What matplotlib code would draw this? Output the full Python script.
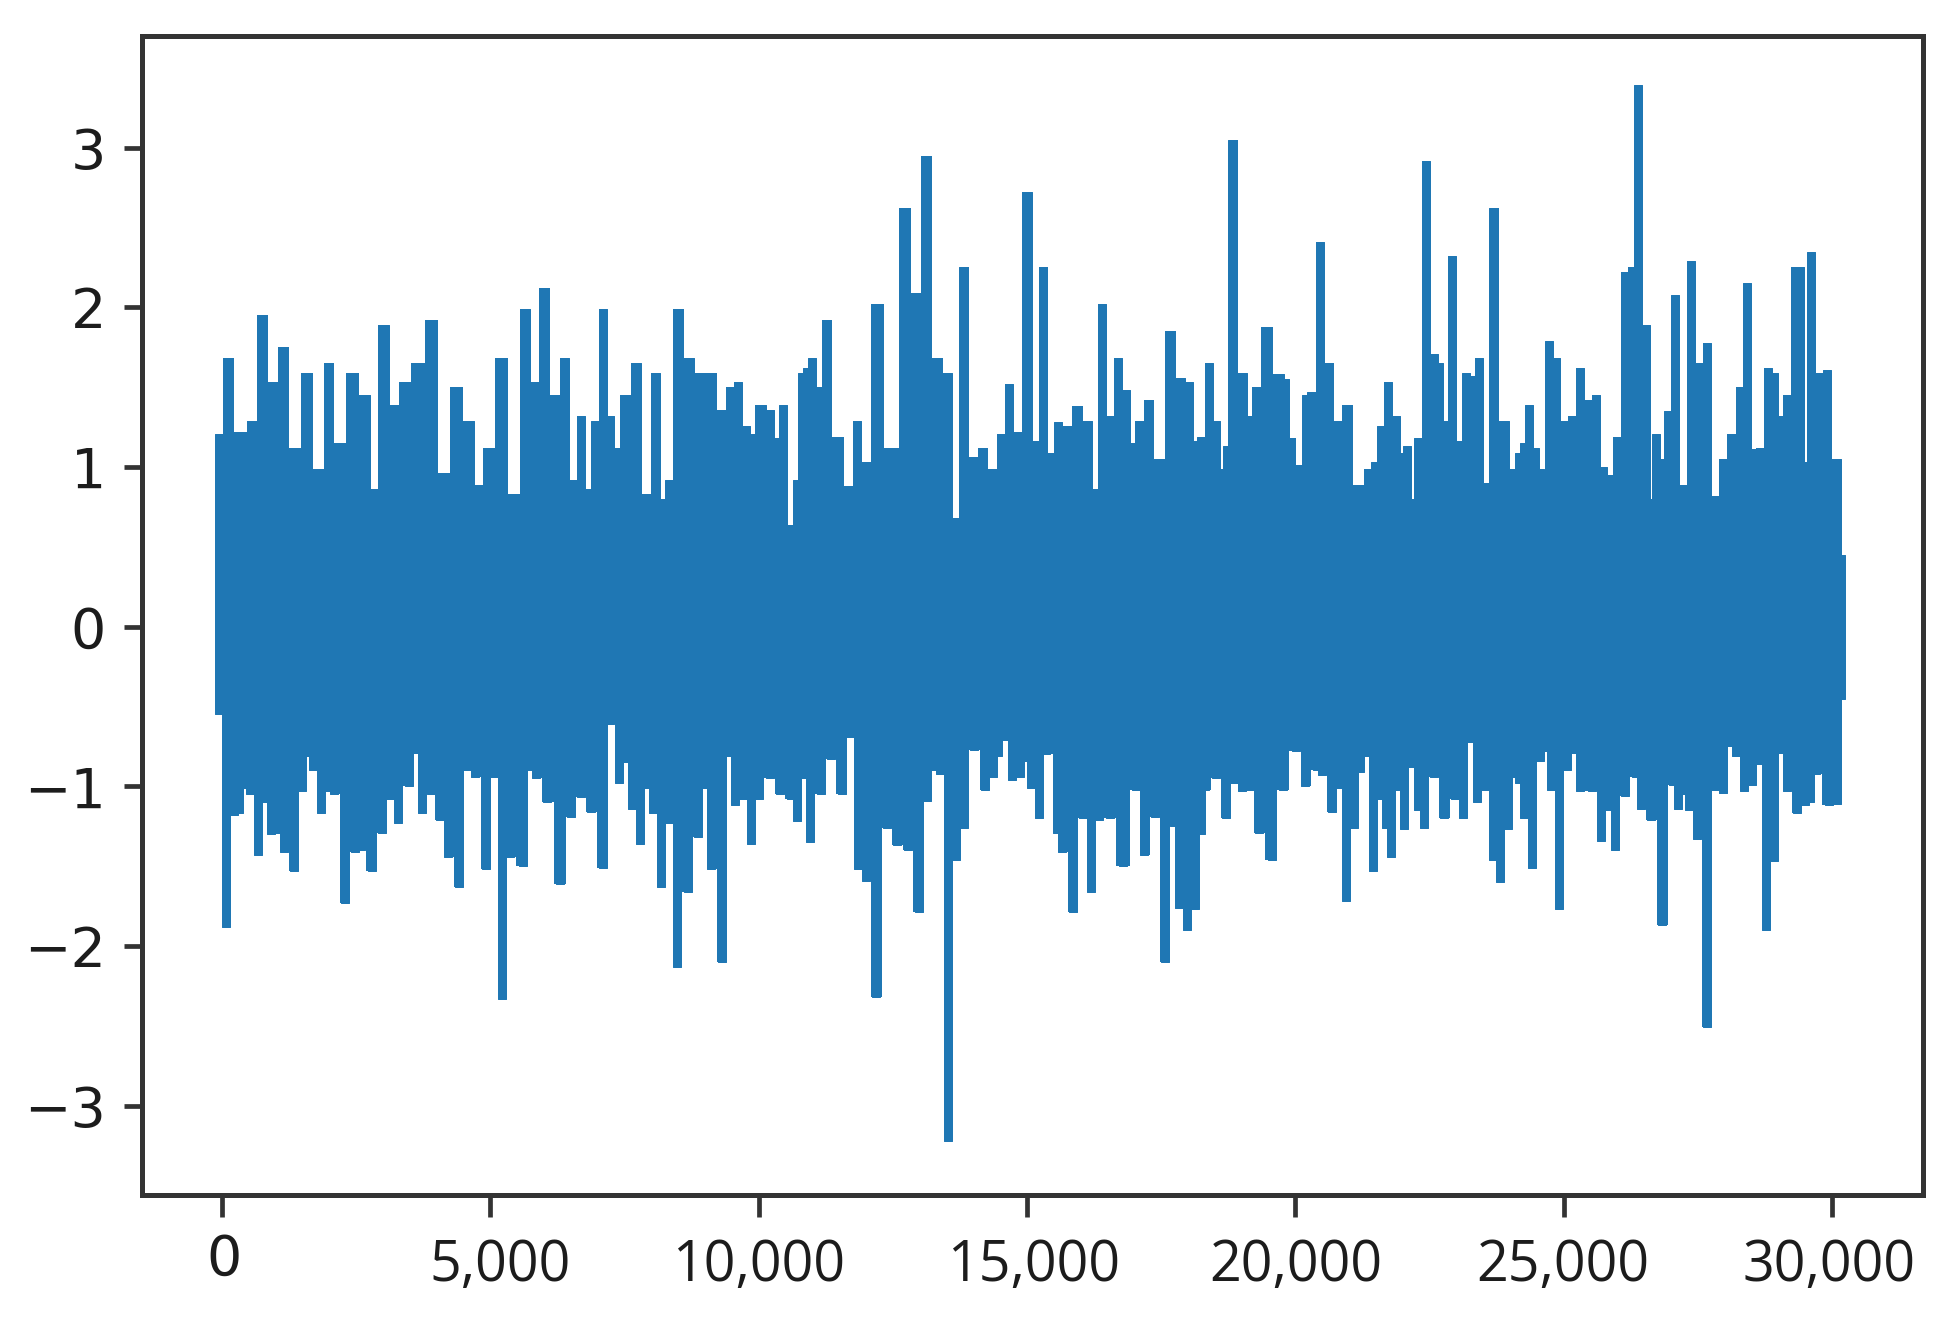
import matplotlib
matplotlib.use("Agg")
import matplotlib.pyplot as plt
from matplotlib.transforms import ScaledTranslation
import numpy as np

# upper envelope of the signal
top_x = [-60, 113, 349, 570, 754, 953, 1152, 1351, 1602, 1801, 1992, 2191, 2434, 2685, 2788, 3038, 3186, 3429, 3628,
         3923, 4144, 4372, 4622, 4770, 4969, 5212, 5463, 5661, 5809, 6000, 6206, 6398, 6546, 6693, 6840, 6943, 7091,
         7238, 7341, 7489, 7739, 7886, 8085, 8233, 8329, 8476, 8726, 8874, 9117, 9316, 9463, 9611, 9758, 9814, 10057,
         10205, 10315, 10462, 10600, 10706, 10801, 10905, 11000, 11103, 11251, 11494, 11693, 11840, 11988, 12194,
         12489, 12732, 12931, 13130, 13336, 13520, 13684, 13815, 14014, 14161, 14367, 14515, 14662, 14810, 15009,
         15156, 15303, 15473, 15583, 15731, 15952, 16136, 16246, 16394, 16541, 16688, 16836, 16946, 17094, 17278,
         17462, 17683, 17867, 18014, 18125, 18236, 18383, 18530, 18626, 18729, 18825, 19024, 19120, 19267, 19459,
         19710, 19805, 19908, 20100, 20203, 20299, 20453, 20630, 20792, 20940, 21198, 21345, 21492, 21587, 21734,
         21881, 21984, 22079, 22190, 22285, 22432, 22579, 22682, 22777, 22924, 23071, 23181, 23277, 23416, 23570,
         23673, 23915, 24062, 24158, 24261, 24356, 24466, 24562, 24650, 24723, 24856, 25002, 25164, 25296, 25458,
         25605, 25737, 25840, 25994, 26133, 26265, 26390, 26537, 26633, 26728, 26838, 26941, 27081, 27228, 27374,
         27529, 27676, 27822, 27970, 28116, 28322, 28417, 28513, 28667, 28814, 28909, 29005, 29152, 29313, 29409,
         29504, 29600, 29702, 29798, 29901, 29996, 30099, 30170]
top_y = [1.21, 1.68, 1.22, 1.29, 1.95, 1.53, 1.75, 1.12, 1.59, 0.99, 1.65, 1.15, 1.59, 1.45, 0.86, 1.89, 1.39, 1.53, 1.65,
         1.92, 0.96, 1.50, 1.29, 0.89, 1.12, 1.68, 0.83, 1.99, 1.53, 2.12, 1.45, 1.68, 0.92, 1.32, 0.86, 1.29, 1.99,
         1.32, 1.12, 1.45, 1.65, 0.83, 1.59, 0.80, 0.92, 1.99, 1.68, 1.59, 1.59, 1.36, 1.50, 1.53, 1.26, 1.21, 1.39,
         1.36, 1.18, 1.39, 0.64, 0.92, 1.59, 1.62, 1.68, 1.50, 1.92, 1.19, 0.88, 1.29, 1.03, 2.02,
         1.12, 2.62, 2.09, 2.95, 1.68, 1.59, 0.68, 2.25, 1.06, 1.12, 0.99, 1.21, 1.52, 1.22, 2.72,
         1.16, 2.25, 1.09, 1.28, 1.26, 1.38, 1.29, 0.86, 2.02, 1.32, 1.68, 1.48, 1.15, 1.29, 1.42,
         1.05, 1.85, 1.56, 1.53, 1.16, 1.19, 1.65, 1.29, 0.99, 1.13, 3.05, 1.59, 1.32, 1.50, 1.88,
         1.58, 1.55, 1.18, 1.01, 1.45, 1.47, 2.41, 1.65, 1.29, 1.39, 0.89, 0.99, 1.03, 1.26, 1.53,
         1.32, 1.09, 1.13, 0.80, 1.18, 2.92, 1.71, 1.65, 1.29, 2.32, 1.16, 1.59, 1.57, 1.68, 0.90,
         2.62, 1.29, 0.99, 1.09, 1.15, 1.39, 1.12, 0.99, 0.82, 1.79, 1.68, 1.29, 1.32, 1.62, 1.42,
         1.45, 1.00, 0.95, 1.19, 2.22, 2.25, 3.39, 1.89, 0.80, 1.21, 1.05, 1.35, 2.08, 0.89, 2.29,
         1.65, 1.78, 0.82, 1.05, 1.21, 1.50, 2.15, 1.11, 1.12, 1.62, 1.59, 1.32, 1.45, 2.25, 2.25,
         1.03, 2.35, 1.59, 1.59, 1.61, 1.05, 1.05, 0.45]

# lower envelope
bottom_x = [-60, 69, 216, 320, 415, 518, 666, 806, 909, 1012, 1160, 1351, 1498, 1602, 1697, 1845, 1992, 2095, 2287, 2486,
            2596, 2788, 2986, 3134, 3281, 3480, 3576, 3724, 3886, 4070, 4217, 4416, 4571, 4718, 4917, 5065, 5212, 5359,
            5603, 5764, 5860, 6059, 6302, 6501, 6686, 6870, 7091, 7238, 7393, 7540, 7643, 7791, 7938, 8033, 8181, 8329,
            8476, 8675, 8874, 9021, 9117, 9316, 9412, 9559, 9706, 9858, 10006, 10205, 10389, 10610, 10706, 10809,
            10956, 11155, 11347, 11553, 11693, 11848, 11995, 12194, 12393, 12584, 12783, 12982, 13130, 13277, 13373,
            13528, 13675, 13822, 14021, 14220, 14367, 14463, 14566, 14714, 14861, 14957, 15067, 15215, 15362, 15451,
            15561, 15657, 15856, 16048, 16195, 16342, 16541, 16784, 17035, 17182, 17388, 17572, 17735, 17831, 17978,
            18125, 18236, 18324, 18530, 18715, 18862, 19009, 19157, 19319, 19562, 19761, 20004, 20188, 20394, 20498,
            20689, 20792, 20940, 21088, 21198, 21294, 21441, 21587, 21690, 21786, 21881, 22028, 22175, 22278, 22388,
            22579, 22777, 22968, 23122, 23269, 23379, 23526, 23673, 23820, 23967, 24062, 24172, 24261, 24407, 24554,
            24650, 24760, 24907, 25054, 25149, 25311, 25531, 25693, 25840, 25950, 26141, 26339, 26449, 26633, 26831,
            27037, 27132, 27228, 27330, 27477, 27676, 27822, 27970, 28116, 28212, 28359, 28506, 28615, 28762, 28909,
            29005, 29152, 29350, 29497, 29593, 29702, 29937, 30099, 30170]
bottom_y = [-0.55, -1.88, -1.18, -1.17, -1.01, -1.05, -1.43, -1.10, -1.30, -1.29, -1.41, -1.53, -1.03, -0.81, -0.90, -1.17, -1.03, -1.05, -1.73, -1.41,
            -1.40, -1.53, -1.29, -1.08, -1.23, -1.00, -0.79, -1.17, -1.05, -1.21, -1.44, -1.63, -0.90, -0.94, -1.52, -0.94, -2.33, -1.44,
            -1.50, -0.90, -0.95, -1.10, -1.61, -1.19, -1.07, -1.16, -1.51, -0.61, -0.98, -0.85, -1.14, -1.36, -1.01, -1.17, -1.63, -1.23,
            -2.13, -1.66, -1.32, -1.01, -1.52, -2.10, -0.81, -1.12, -1.08, -1.36, -1.08, -0.95, -1.05, -1.08, -1.22, -0.95,
            -1.35, -1.05, -0.83, -1.05, -0.69, -1.52, -1.59, -2.32, -1.26, -1.37, -1.40, -1.79, -1.09, -0.90, -0.92,
            -3.22, -1.46, -1.26, -0.77, -1.02, -0.94, -0.81, -0.71, -0.96, -0.94, -0.84, -1.01, -1.20, -0.80, -0.79,
            -1.29, -1.41, -1.79, -1.20, -1.66, -1.21, -1.20, -1.50, -1.02, -1.43, -1.19, -2.10, -1.25, -1.76, -1.90,
            -1.77, -1.30, -1.02, -0.95, -1.20, -0.98, -1.03, -1.02, -1.29, -1.46, -1.02, -0.78, -1.00, -0.90, -0.93,
            -1.16, -1.01, -1.72, -1.26, -0.91, -0.81, -1.53, -1.08, -1.26, -1.44, -1.02, -1.27, -0.88, -1.15, -1.26,
            -0.94, -1.20, -1.08, -1.20, -0.72, -1.10, -1.02, -1.46, -1.60, -1.27, -0.94, -0.98, -1.20, -1.51, -0.84,
            -0.78, -1.02, -1.77, -0.90, -0.79, -1.03, -1.03, -1.34, -1.15, -1.40, -1.06, -0.94, -1.14, -1.21, -1.87,
            -0.99, -1.14, -1.05, -1.15, -1.33, -2.51, -1.02, -1.04, -0.75, -0.81, -1.03, -0.99, -0.86, -1.90, -1.47,
            -0.79, -1.03, -1.17, -1.12, -1.10, -0.92, -1.12, -1.11, -0.45]

xtick_values = [0, 5000, 10000, 15000, 20000, 25000, 30000]
xtick_labels = ['0', '5,000', '10,000', '15,000', '20,000', '25,000', '30,000']
ytick_values = [-3, -2, -1, 0, 1, 2, 3]

W, H = 1958, 1322
LINE_COLOR = '#1f77b4'
FRAME_COLOR = '#333333'
TEXT_COLOR = '#1c1c1c'

fig = plt.figure(figsize=(W / 100, H / 100), dpi=100)
ax = fig.add_axes([142 / W, 1 - 1195 / H, (1923 - 142) / W, (1195 - 36) / H])


def draw_side(x, y):
    # body as steps, then the peaks as a line so narrow spikes keep the stroke width
    ax.fill_between(x, 0, y, step='mid', color=LINE_COLOR, linewidth=0)
    path_x = np.repeat(x, 3)
    path_y = np.column_stack([np.zeros(len(y)), y, np.zeros(len(y))]).ravel()
    ax.plot(path_x, path_y, color=LINE_COLOR, linewidth=6.4, solid_joinstyle='bevel', solid_capstyle='butt')


draw_side(top_x, top_y)
draw_side(bottom_x, bottom_y)

ax.set_xlim(-1490, 31694)
ax.set_ylim(-3.56, 3.70)
ax.set_xticks(xtick_values)
ax.set_xticklabels(xtick_labels)
ax.set_yticks(ytick_values)

for spine in ax.spines.values():
    spine.set_linewidth(3.6)
    spine.set_color(FRAME_COLOR)
ax.tick_params(axis='x', length=16, width=3.4, color=FRAME_COLOR, labelsize=40, labelcolor=TEXT_COLOR, pad=11)
ax.tick_params(axis='y', length=13, width=3.4, color=FRAME_COLOR, labelsize=40, labelcolor=TEXT_COLOR, pad=13)

# the x labels look re-typed in a narrower face, apart from the 0
for label in ax.get_xticklabels():
    label.set_family(['Open Sans', 'DejaVu Sans'])
ax.get_xticklabels()[0].set_family('DejaVu Sans')
label_nudge = [2, 10, 0, 7, 0, -1, -3]
label_drop = [0, 5, 5, 5, 5, 5, 5]
for label, dx, dy in zip(ax.get_xticklabels(), label_nudge, label_drop):
    label.set_transform(label.get_transform() + ScaledTranslation(dx / 100, -dy / 100, fig.dpi_scale_trans))

fig.savefig('out.png', dpi=100)
